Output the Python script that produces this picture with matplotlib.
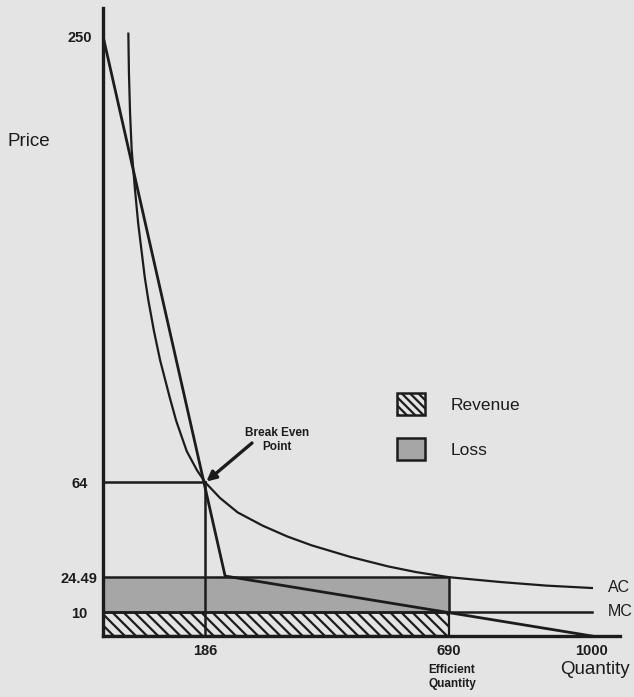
import matplotlib.pyplot as plt
import numpy as np
from matplotlib.patches import Patch

# valores
q_demanda = [0, 225, 1000]
p_demanda = [250, 25, 0]

q_ac = [41.5, 42.5, 44.5, 47.4, 53.3, 59, 65.4, 71, 77.5, 88, 99.3, 118, 130, 150, 170, 186,
        215, 250, 300, 350, 400, 480, 560, 620, 690, 800, 900, 1000]
p_ac = [251, 235, 218, 202.5, 186, 172, 160, 149.5, 140, 127, 115, 99, 89.5, 77, 69, 64,
        57.5, 51.5, 46, 41.5, 37.8, 33, 29, 26.6, 24.5, 22.5, 21, 20]

q_mc = [0, 1000]
p_mc = [10, 10]

q_equilibrio = 186
p_equilibrio = 64
q_eficiente = 690
p_ac_eficiente = 24.49

y_ticks = [10, 24.49, 64, 250]
y_labels = ['10', '24.49', '64', '250']
x_ticks = [186, 690, 1000]
x_labels = ['186', '690', '1000']

fondo = '#e4e4e4'
gris = '#a6a6a6'
tinta = '#1c1c1c'

plt.rcParams['font.family'] = ['Liberation Sans', 'DejaVu Sans']
plt.rcParams['hatch.linewidth'] = 1.6
plt.rcParams['hatch.color'] = tinta

fig = plt.figure(figsize=(6.34, 6.97), dpi=100, facecolor=fondo)
ax = fig.add_axes([103 / 634, 1 - 636 / 697, 517 / 634, 628 / 697])
ax.set_facecolor(fondo)

# el eje x del original no es lineal
ax.set_xscale('function', functions=(lambda x: np.sign(x) * np.abs(x) ** 0.93,
                                     lambda x: np.sign(x) * np.abs(x) ** (1 / 0.93)))
ax.set_xlim(0, 1062)
ax.set_ylim(0, 261.7)

# areas
ax.fill_between([0, q_eficiente], 0, p_mc[0], facecolor=fondo, edgecolor=tinta,
                hatch='\\\\\\', lw=1.6, zorder=1)
ax.fill_between([0, q_eficiente], p_mc[0], p_ac_eficiente, facecolor=gris,
                edgecolor=tinta, lw=1.8, zorder=1)

ax.plot(q_demanda, p_demanda, color=tinta, lw=2.0, zorder=3)
ax.plot(q_ac, p_ac, color=tinta, lw=1.6, zorder=3)
ax.plot(q_mc, p_mc, color=tinta, lw=1.8, zorder=3)
ax.plot([0, q_equilibrio], [p_equilibrio, p_equilibrio], color=tinta, lw=1.8, zorder=3)
ax.plot([q_equilibrio, q_equilibrio], [0, p_equilibrio], color=tinta, lw=1.8, zorder=3)

for s in ['top', 'right']:
    ax.spines[s].set_visible(False)
for s in ['left', 'bottom']:
    ax.spines[s].set_linewidth(2.4)
    ax.spines[s].set_color(tinta)
    ax.spines[s].set_zorder(4)

ax.set_yticks(y_ticks)
ax.set_yticklabels(y_labels)
ax.set_xticks(x_ticks)
ax.set_xticklabels(x_labels)
ax.xaxis.set_minor_locator(plt.NullLocator())
ax.tick_params(axis='both', length=0, labelsize=10.5, labelcolor=tinta)
ax.tick_params(axis='y', pad=17)
ax.tick_params(axis='x', pad=6)
for lab in ax.get_yticklabels() + ax.get_xticklabels():
    lab.set_fontweight('bold')
for lab in ax.get_yticklabels():
    lab.set_horizontalalignment('center')

fig.text(29 / 634, 1 - 142 / 697, 'Price', fontsize=13.5, color=tinta, ha='center', va='center')
fig.text(595 / 634, 1 - 670 / 697, 'Quantity', fontsize=13.5, color=tinta, ha='center', va='center')
fig.text(452 / 634, 1 - 677 / 697, 'Efficient\nQuantity', fontsize=8.5, fontweight='bold',
         color=tinta, ha='center', va='center', linespacing=1.25)
fig.text(608 / 634, 1 - 588 / 697, 'AC', fontsize=11.5, color=tinta, ha='left', va='center')
fig.text(608 / 634, 1 - 612 / 697, 'MC', fontsize=11.5, color=tinta, ha='left', va='center')

fig.text(277 / 634, 1 - 440 / 697, 'Break Even\nPoint', fontsize=8.5, fontweight='bold',
         color=tinta, ha='center', va='center', linespacing=1.2)
ax.annotate('', xy=(q_equilibrio, p_equilibrio), xytext=(252, 697 - 443),
            textcoords='figure pixels',
            arrowprops=dict(arrowstyle='-|>', lw=2.4, color=tinta, mutation_scale=14,
                            shrinkA=0, shrinkB=1))

handles = [Patch(facecolor=fondo, edgecolor=tinta, hatch='\\\\\\\\', lw=1.8),
           Patch(facecolor=gris, edgecolor=tinta, lw=1.8)]
fig.legend(handles, ['Revenue', 'Loss'], loc='upper left',
           bbox_to_anchor=(397 / 634, 1 - 393 / 697), frameon=False, fontsize=12.5,
           handlelength=1.6, handleheight=1.6, handletextpad=1.5, labelspacing=1.3,
           borderpad=0, borderaxespad=0, labelcolor=tinta)

plt.savefig('out.png', dpi=100, facecolor=fondo)
